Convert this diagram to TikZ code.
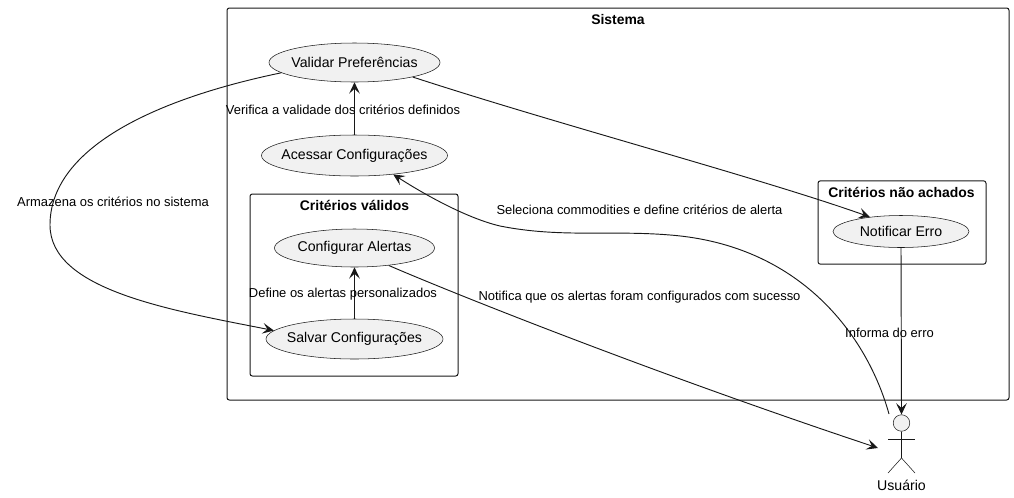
\documentclass[tikz,border=0pt]{standalone}
\usepackage{fontspec}
\setmainfont{Liberation Sans}
\usetikzlibrary{arrows.meta,shapes.geometric}
\definecolor{ln}{HTML}{181818}
\definecolor{ucfill}{HTML}{F1F1F1}
\newcommand{\zb}[1]{\makebox[0pt]{\raisebox{-0.6pt}{#1}}}
\tikzset{
  x=0.75pt,y=-0.75pt,
  uc/.style={ellipse,draw=ln,fill=ucfill,line width=0.4pt,inner sep=0pt,font=\fontsize{10.6}{12}\selectfont},
  box/.style={draw=ln,line width=0.75pt,rounded corners=1.8pt},
  ttl/.style={font=\fontsize{10.45}{12}\selectfont\bfseries,text=black,inner sep=0pt},
  lab/.style={font=\fontsize{9.72}{12}\selectfont,text=black,inner sep=0pt},
  con/.style={draw=ln,line width=0.7pt,-{Stealth[length=8.5pt,width=8pt,inset=3.6pt]}},
  act/.style={draw=ln,line width=0.4pt},
}
\begin{document}
\begin{tikzpicture}
\useasboundingbox (0,0) rectangle (1014,497);
% frames
\node[box,minimum width=586.5pt,minimum height=294pt,inner sep=0pt] (sys) at (618,204) {};
\node[box,minimum width=156pt,minimum height=136.5pt,inner sep=0pt] (val) at (354,285) {};
\node[box,minimum width=126pt,minimum height=62.5pt,inner sep=0pt] (nao) at (902,222.5) {};
\node[ttl] (tsys) at (618,19.5) {Sistema};
\node[ttl] (tval) at (354.5,205) {Critérios válidos};
\node[ttl] (tnao) at (901.5,192) {Critérios não achados};
% use cases
\node[uc,minimum width=128.25pt,minimum height=29.25pt] (vp) at (354.5,62.5) {\zb{Validar Preferências}};
\node[uc,minimum width=139.5pt,minimum height=30.75pt] (ac) at (354.5,155.5) {\zb{Acessar Configurações}};
\node[uc,minimum width=120pt,minimum height=28.5pt] (cf) at (354.5,248) {\zb{Configurar Alertas}};
\node[uc,minimum width=132.75pt,minimum height=30pt] (sv) at (354.5,339) {\zb{Salvar Configurações}};
\node[uc,minimum width=102pt,minimum height=24pt] (nt) at (901,231.5) {\zb{Notificar Erro}};
% actor
\node[circle,draw=ln,fill=ucfill,line width=0.4pt,minimum size=12.4pt,inner sep=0pt] (hd) at (901.5,423) {};
\coordinate (hip) at (901.5,458);
\coordinate (armL) at (888,439);
\coordinate (armR) at (915,439);
\coordinate (legL) at (888,473);
\coordinate (legR) at (915,473);
\coordinate (actTop) at (901.5,414.5);
\coordinate (actOut) at (889,414);
\coordinate (actIn) at (878,448);
\draw[act] (hd.south) -- (hip) -- (legL);
\draw[act] (hip) -- (legR);
\draw[act] (armL) -- (armR);
\node[font=\fontsize{10.6}{12}\selectfont,text=black,inner sep=0pt] (usr) at (901.5,485.5) {Usuário};
% connectors
\draw[con] (ac.north) -- (vp.south);
\draw[con] (sv.north) -- (cf.south);
\draw[con] (nt.south) -- (actTop);
\draw[con] (vp.188) .. controls (150,100) and (50,150) .. (50,225) .. controls (50,290) and (170,310) .. (sv.174);
\draw[con] (vp.-14) .. controls (560,125) and (760,178) .. (nt.155);
\draw[con] (actOut) .. controls (867,335) and (800,245) .. (670,235) .. controls (610,230) and (560,238) .. (500,226) .. controls (470,219) and (430,198) .. (ac.-26);
\draw[con] (cf.-27) .. controls (450,292) and (650,372) .. (actIn);
% labels
\node[lab] (l1) at (343,110) {Verifica a validade dos critérios definidos};
\node[lab] (l2) at (113,201.5) {Armazena os critérios no sistema};
\node[lab] (l3) at (639.5,209.5) {Seleciona commodities e define critérios de alerta};
\node[lab] (l4) at (343,294) {Define os alertas personalizados};
\node[lab] (l5) at (639.5,297) {Notifica que os alertas foram configurados com sucesso};
\node[lab] (l6) at (889.5,333) {Informa do erro};
\end{tikzpicture}
\end{document}
